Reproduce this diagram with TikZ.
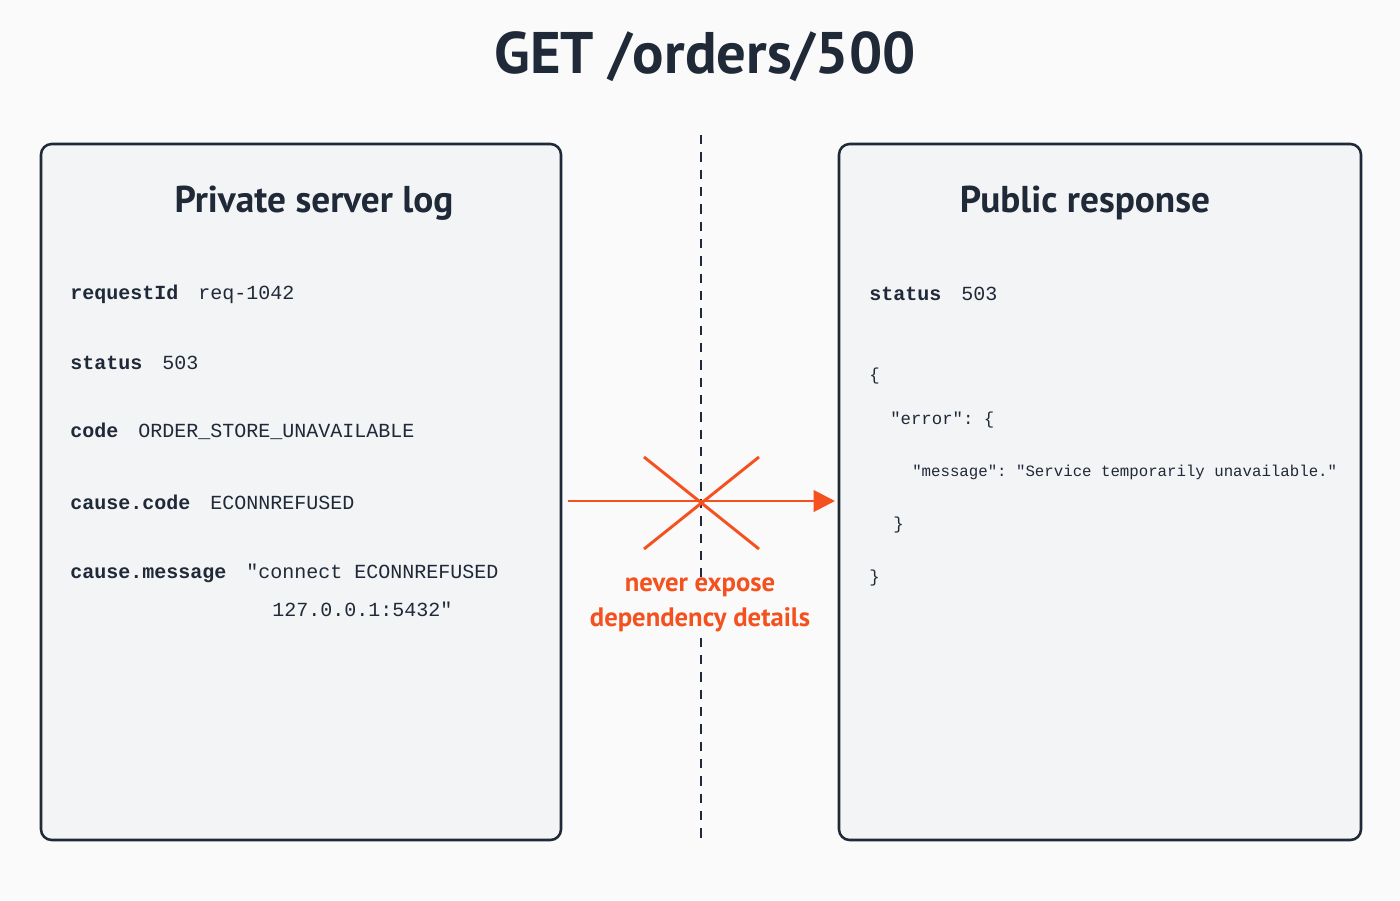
\documentclass[tikz,border=0pt]{standalone}
\usepackage{fontspec}
\setmainfont{PT Sans}
\setmonofont{Liberation Mono}
\usetikzlibrary{arrows.meta}
\definecolor{bg}{HTML}{FAFAFA}
\definecolor{boxfill}{HTML}{F3F4F6}
\definecolor{ink}{HTML}{1F2937}
\definecolor{warn}{HTML}{F4511E}
\begin{document}
\begin{tikzpicture}[x=0.75pt,y=-0.75pt,
  panel/.style={draw=ink,line width=1.9pt,fill=boxfill,rounded corners=8pt},
  ttl/.style={font=\bfseries\fontsize{28}{32}\selectfont,text=ink},
  kv/.style={anchor=west,font=\ttfamily\fontsize{15}{17}\selectfont,text=ink,inner sep=0},
  js/.style={anchor=west,font=\ttfamily\fontsize{13}{15}\selectfont,text=ink,inner sep=0},
  warnline/.style={draw=warn,line width=2.2pt}]
\fill[bg] (0,0) rectangle (1400,900);
\node[font=\bfseries\fontsize{44}{50}\selectfont,text=ink] (title) at (705,57) {GET /orders/500};
\draw[panel] (41,144) rectangle (561,840);
\draw[panel] (839,144) rectangle (1361,840);
\coordinate (dtop) at (701,135); \coordinate (dbot) at (701,838);
\draw[ink,line width=1.3pt,dash pattern=on 7pt off 6pt] (dtop) -- (dbot);
\node[ttl] (lt) at (314,203) {Private server log};
\node[ttl] (rt) at (1085,203) {Public response};
\node[kv] (l1) at (70,294) {\textbf{requestId}\hspace{0.4em} req-1042};
\node[kv] (l2) at (70,363) {\textbf{status}\hspace{0.4em} 503};
\node[kv] (l3) at (70,431) {\textbf{code}\hspace{0.4em} ORDER\_STORE\_UNAVAILABLE};
\node[kv] (l4) at (70,502) {\textbf{cause.code}\hspace{0.4em} ECONNREFUSED};
\node[kv] (l5) at (70,573) {\textbf{cause.message}\hspace{0.4em} "connect ECONNREFUSED};
\node[kv] (l6) at (272,609) {127.0.0.1:5432"};
\node[kv] (r1) at (869,294) {\textbf{status}\hspace{0.4em} 503};
\node[js] (r2) at (869,376) {\{};
\node[js] (r3) at (890,420) {"error": \{};
\node[js,font=\ttfamily\fontsize{11.8}{13}\selectfont] (r4) at (912,472) {"message": "Service temporarily unavailable."};
\node[js] (r5) at (893,525) {\}};
\node[js] (r6) at (869,578) {\}};
\coordinate (as) at (568,501); \coordinate (ae) at (835,501);
\draw[warnline,-{Triangle[length=16pt,width=16pt]}] (as) -- (ae);
\coordinate (x1) at (644,457); \coordinate (x2) at (759,549);
\coordinate (x3) at (644,549); \coordinate (x4) at (759,457);
\draw[warnline] (x1) -- (x2); \draw[warnline] (x3) -- (x4);
\node[font=\bfseries\fontsize{20}{26}\selectfont,text=warn,fill=bg,inner sep=1pt,align=center] (w) at (700,605) {never expose\\dependency details};
\end{tikzpicture}
\end{document}
